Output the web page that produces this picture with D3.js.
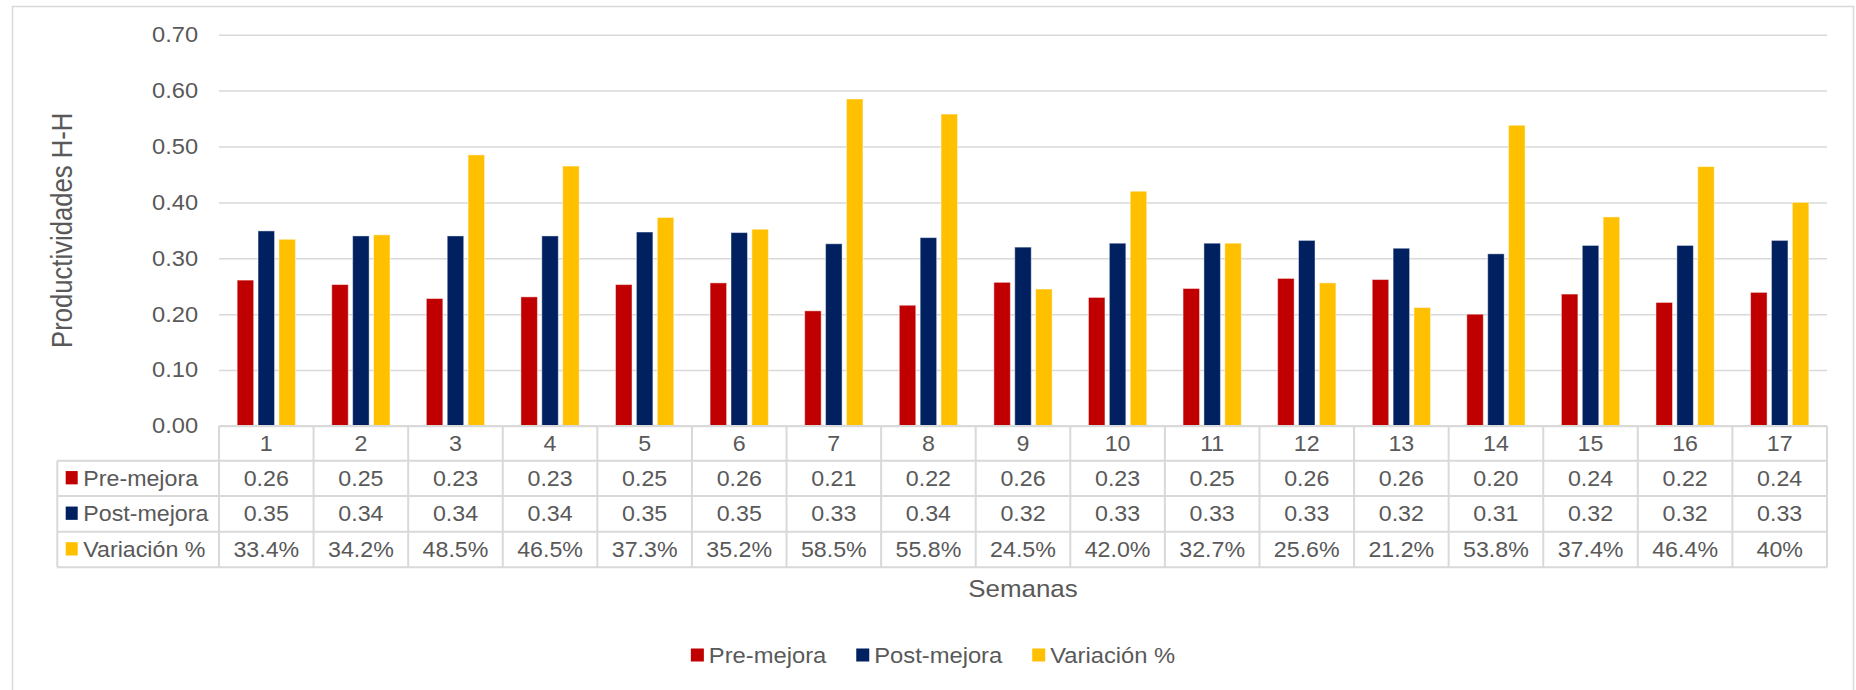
<!DOCTYPE html>
<html>
<head>
<meta charset="utf-8">
<script src="https://cdn.jsdelivr.net/npm/d3@7"></script>
<style>
  html, body { margin: 0; padding: 0; background: #fff; }
  svg { display: block; font-family: "Liberation Sans", Arial, sans-serif; }
</style>
</head>
<body>
<svg id="chart" width="1856" height="690"></svg>
<script>
// Weekly productivity (H-H) before and after the improvement, plus the relative change
const semanas = ["1","2","3","4","5","6","7","8","9","10","11","12","13","14","15","16","17"];
const preMejora  = [0.261, 0.253, 0.228, 0.231, 0.253, 0.256, 0.206, 0.216, 0.257, 0.230, 0.246, 0.264, 0.262, 0.200, 0.236, 0.221, 0.239];
const postMejora = [0.349, 0.340, 0.340, 0.340, 0.347, 0.346, 0.326, 0.337, 0.320, 0.327, 0.327, 0.332, 0.318, 0.308, 0.323, 0.323, 0.332];
const variacion  = [0.334, 0.342, 0.485, 0.465, 0.373, 0.352, 0.585, 0.558, 0.245, 0.420, 0.327, 0.256, 0.212, 0.538, 0.374, 0.464, 0.40];
// decimals shown for each percentage cell in the data table
const decimalesVariacion = [1,1,1,1,1,1,1,1,1,1,1,1,1,1,1,1,0];
const yTicks = [0, 0.1, 0.2, 0.3, 0.4, 0.5, 0.6, 0.7];

const serieNombres = ["Pre-mejora", "Post-mejora", "Variación %"];
const serieColores = ["#C00000", "#002060", "#FFC000"];
const serieValores = [preMejora, postMejora, variacion];
const serieFormatos = [
  (v) => d3.format(".2f")(v),
  (v) => d3.format(".2f")(v),
  (v, i) => d3.format(`.${decimalesVariacion[i]}%`)(v)
];

const TEXT = "#595959";
const LINE = "#d9d9d9";
const SX = 1.08;   // horizontal stretch of the chart text

const svg = d3.select("#chart");

// outer chart frame
svg.append("rect")
  .attr("x", 12.5).attr("y", 6.5).attr("width", 1841).attr("height", 700)
  .attr("fill", "#fff").attr("stroke", LINE).attr("stroke-width", 1.5);

const plotLeft = 219, plotRight = 1827, plotTop = 34.7, plotBottom = 426;

const y = d3.scaleLinear().domain([0, 0.7]).range([plotBottom, plotTop]);
const x0 = d3.scaleBand().domain(semanas).range([plotLeft, plotRight]).padding(0);
const x1 = d3.scaleBand().domain(serieNombres).range([0, x0.bandwidth()])
  .paddingInner(0.21).paddingOuter(0.87);

function label(g, x, yy, s, o) {
  return g.append("text")
    .attr("transform", `translate(${x},${yy}) scale(${o.sx || 1},1)`)
    .attr("text-anchor", o.anchor || "middle")
    .attr("dy", o.dy == null ? "0.35em" : o.dy)
    .attr("font-size", o.size)
    .attr("fill", TEXT)
    .text(s);
}

// y axis with gridlines
const yAxis = svg.append("g")
  .attr("transform", `translate(${plotLeft},0)`)
  .call(d3.axisLeft(y).tickValues(yTicks).tickFormat(d3.format(".2f"))
    .tickSize(-(plotRight - plotLeft)).tickPadding(19));
yAxis.select(".domain").remove();
yAxis.selectAll(".tick line").attr("stroke", LINE).attr("stroke-width", 1.5);
yAxis.selectAll(".tick text")
  .attr("font-size", 21.5).attr("fill", TEXT)
  .attr("font-family", "Liberation Sans, Arial, sans-serif")
  .attr("transform", "scale(1.1,1)");

// bars
const grupos = svg.append("g").selectAll("g")
  .data(semanas)
  .join("g")
  .attr("transform", (d) => `translate(${x0(d)},0)`);

grupos.selectAll("rect")
  .data((d, i) => serieNombres.map((n, k) => ({ serie: n, color: serieColores[k], v: serieValores[k][i] })))
  .join("rect")
  .attr("x", (d) => x1(d.serie))
  .attr("width", x1.bandwidth())
  .attr("y", (d) => y(d.v))
  .attr("height", (d) => y(0) - y(d.v))
  .attr("fill", (d) => d.color)
  .attr("stroke", "rgba(255,255,255,0.45)")
  .attr("stroke-width", 1);

// data table below the axis
const tabla = svg.append("g");
const tableLeft = 57.3;
const rowLines = [plotBottom, 460.7, 496, 531.7, 567.3];

tabla.append("line")
  .attr("x1", plotLeft).attr("x2", plotRight)
  .attr("y1", rowLines[0]).attr("y2", rowLines[0])
  .attr("stroke", LINE).attr("stroke-width", 2);
rowLines.slice(1).forEach((ry) => {
  tabla.append("line")
    .attr("x1", tableLeft).attr("x2", plotRight)
    .attr("y1", ry).attr("y2", ry)
    .attr("stroke", LINE).attr("stroke-width", 2);
});
tabla.append("line")
  .attr("x1", tableLeft).attr("x2", tableLeft)
  .attr("y1", rowLines[1]).attr("y2", rowLines[4])
  .attr("stroke", LINE).attr("stroke-width", 2);
semanas.forEach((s) => {
  const xl = x0(s);
  tabla.append("line")
    .attr("x1", xl).attr("x2", xl).attr("y1", rowLines[0]).attr("y2", rowLines[4])
    .attr("stroke", LINE).attr("stroke-width", 2);
});
tabla.append("line")
  .attr("x1", plotRight).attr("x2", plotRight).attr("y1", rowLines[0]).attr("y2", rowLines[4])
  .attr("stroke", LINE).attr("stroke-width", 2);

// header row: week numbers
semanas.forEach((s) => {
  label(tabla, x0(s) + x0.bandwidth() / 2, (rowLines[0] + rowLines[1]) / 2 + 0.5, s, { size: 21.5, sx: SX });
});

// series rows
serieNombres.forEach((n, k) => {
  const top = rowLines[k + 1], bot = rowLines[k + 2];
  const cy = (top + bot) / 2;
  tabla.append("rect")
    .attr("x", 65.7).attr("y", cy - 7.3).attr("width", 12).attr("height", 13.3)
    .attr("fill", serieColores[k]);
  label(tabla, 83.3, cy, n, { size: 21.5, sx: SX, anchor: "start" });
  semanas.forEach((s, i) => {
    label(tabla, x0(s) + x0.bandwidth() / 2, cy, serieFormatos[k](serieValores[k][i], i), { size: 21.5, sx: SX });
  });
});

// axis titles
svg.append("text")
  .attr("transform", `translate(71.5,${(plotTop + plotBottom) / 2}) rotate(-90) scale(0.87,1)`)
  .attr("text-anchor", "middle")
  .attr("font-size", 29.5)
  .attr("fill", TEXT)
  .text("Productividades H-H");

label(svg, (plotLeft + plotRight) / 2, 597, "Semanas", { size: 24, sx: SX, dy: 0 });

// legend, centred under the chart frame
const leyenda = svg.append("g");
const items = [];
let lx = 0;
serieNombres.forEach((n, k) => {
  const sw = leyenda.append("rect")
    .attr("x", lx).attr("y", 648.5).attr("width", 13).attr("height", 13)
    .attr("fill", serieColores[k]);
  const t = label(leyenda, lx + 18, 655, n, { size: 22, sx: SX, anchor: "start" });
  const w = t.node().getComputedTextLength() * SX;
  items.push({ sw, t, x: lx });
  lx += 18 + w + 30;
});
const legendWidth = lx - 30;
leyenda.attr("transform", `translate(${933 - legendWidth / 2},0)`);
</script>
</body>
</html>
